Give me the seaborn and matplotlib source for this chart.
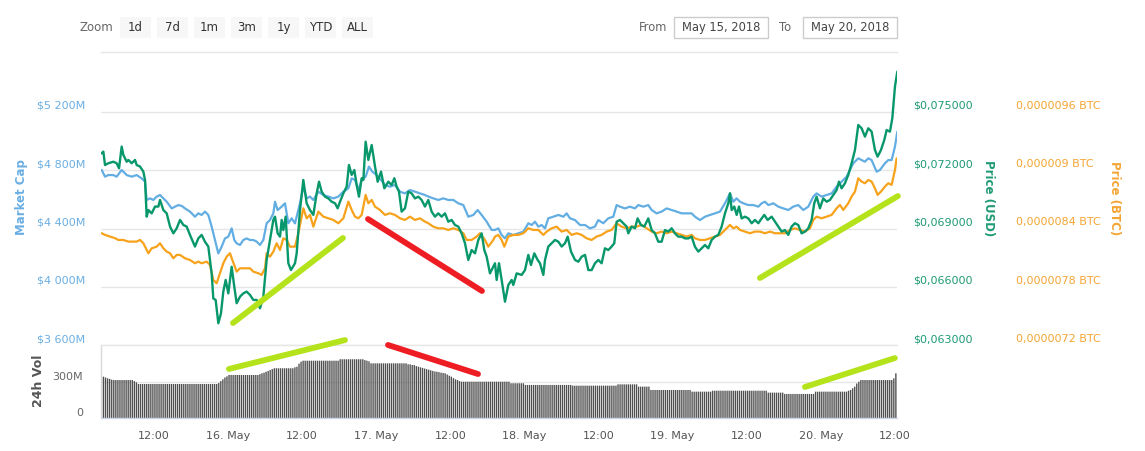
import numpy as np
import pandas as pd
import matplotlib
matplotlib.use("Agg")
import matplotlib.pyplot as plt
import seaborn as sns
from matplotlib.patches import Rectangle
from matplotlib.transforms import ScaledTranslation

# ---------------- DATA (x = hours since 15 May 2018 00:00) ----------------
market_cap_pts = [  # (hour, market cap in $M)
    (3.54, 4802), (4.08, 4756), (4.62, 4767), (5.43, 4767), (5.97, 4756), (6.78, 4802), (7.59, 4767),
    (8.40, 4756), (9.21, 4767), (10.02, 4744), (10.56, 4722), (10.83, 4596), (11.37, 4607), (11.91, 4596),
    (12.45, 4619), (12.99, 4630), (13.53, 4607), (14.07, 4584), (14.88, 4538), (15.42, 4550), (15.96, 4561),
    (16.50, 4555), (17.03, 4538), (17.84, 4516), (18.65, 4481), (19.19, 4504), (19.73, 4493), (20.27, 4516),
    (20.81, 4493), (21.35, 4413), (21.89, 4321), (22.43, 4229), (22.97, 4275), (23.51, 4332), (24.05, 4344),
    (24.59, 4401), (25.02, 4321), (25.40, 4298), (25.94, 4287), (26.48, 4321), (27.02, 4332), (27.56, 4321),
    (28.10, 4321), (28.64, 4310), (29.18, 4287), (29.72, 4321), (30.26, 4436), (30.80, 4458), (31.34, 4504),
    (31.61, 4584), (32.04, 4527), (32.69, 4550), (33.23, 4573), (33.77, 4436), (34.31, 4470),
    (34.85, 4435), (35.66, 4573), (36.20, 4687), (36.74, 4607), (37.28, 4619), (37.82, 4596), (38.63, 4653),
    (39.44, 4630), (40.25, 4619), (41.06, 4607), (41.87, 4619), (42.68, 4653), (43.49, 4676), (44.03, 4744),
    (44.57, 4733), (45.11, 4664), (45.65, 4733), (46.29, 4756), (46.83, 4825), (47.37, 4790), (48.08, 4767),
    (48.78, 4733), (49.42, 4699), (50.23, 4687), (51.04, 4699), (51.85, 4653), (52.66, 4641), (53.47, 4664),
    (54.28, 4653), (55.09, 4641), (55.90, 4630), (56.44, 4619), (57.25, 4607), (58.06, 4596), (58.87, 4607),
    (59.68, 4596), (60.49, 4596), (61.30, 4573), (62.11, 4561), (62.92, 4481), (63.73, 4493), (64.43, 4527),
    (65.08, 4493), (65.89, 4447), (66.70, 4390),
    (67.24, 4390), (67.78, 4401), (68.32, 4355), (68.86, 4332), (69.40, 4367), (70.21, 4355), (71.02, 4367),
    (71.83, 4378), (72.64, 4436), (73.18, 4424), (73.72, 4447), (74.26, 4413), (74.80, 4424), (75.34, 4401),
    (75.88, 4470), (76.69, 4481), (77.50, 4493), (78.31, 4481), (78.85, 4504), (79.39, 4470), (80.20, 4458),
    (81.01, 4424), (81.82, 4424), (82.62, 4401), (83.43, 4413), (83.97, 4458), (84.78, 4436), (85.59, 4470),
    (86.40, 4481), (86.94, 4561), (87.48, 4550), (88.29, 4538), (89.10, 4550), (89.91, 4538), (90.45, 4561),
    (91.26, 4550), (92.07, 4561), (92.61, 4527), (93.42, 4504), (94.23, 4516), (95.04, 4538), (95.85, 4527),
    (96.66, 4516), (97.47, 4504), (98.28, 4504), (99.09, 4504),
    (99.63, 4481), (100.44, 4458), (101.25, 4481), (102.06, 4493), (102.87, 4504), (103.68, 4516),
    (104.49, 4573), (105.03, 4619), (105.30, 4641), (105.84, 4584), (106.38, 4607), (106.92, 4584),
    (107.46, 4573), (108.27, 4561), (109.08, 4561), (109.89, 4550), (110.43, 4573), (110.97, 4584),
    (111.51, 4561), (112.32, 4573), (113.13, 4550), (113.94, 4538), (114.74, 4527), (115.55, 4550),
    (116.36, 4561), (117.17, 4527), (117.98, 4550), (118.79, 4619), (119.33, 4641), (120.14, 4619),
    (120.95, 4630), (121.76, 4641), (122.57, 4687), (123.38, 4722), (124.19, 4756), (124.73, 4802),
    (125.27, 4848), (126.08, 4882), (126.62, 4870), (127.16, 4859), (127.70, 4882), (128.24, 4870),
    (129.05, 4790), (129.59, 4802), (130.40, 4848), (130.94, 4870), (131.48, 4870), (132.02, 4962),
    (132.40, 5065),
]

price_usd_pts = [  # (hour, price in USD)
    (3.54, .07287), (3.81, .07296), (4.08, .07227), (4.62, .07236), (5.43, .07244), (5.97, .07236),
    (6.35, .07210), (6.78, .07322), (7.05, .07279), (7.59, .07244), (7.86, .07253), (8.40, .07236),
    (8.94, .07253), (9.21, .07227), (9.75, .07219), (10.29, .07193), (10.56, .07150), (10.83, .06961),
    (11.10, .06995), (11.64, .06978), (12.18, .07013), (12.72, .07013), (12.99, .07047), (13.53, .06995),
    (14.07, .06978), (14.61, .06910), (15.15, .06875), (15.69, .06901), (16.23, .06944), (16.77, .06918),
    (17.30, .06910), (17.84, .06867), (18.65, .06807), (19.19, .06849), (19.73, .06867), (20.27, .06832),
    (20.81, .06807), (21.35, .06669), (21.62, .06540), (22.00, .06532), (22.43, .06412), (22.86, .06463),
    (23.24, .06575), (23.62, .06635), (24.05, .06566), (24.59, .06703), (25.02, .06600), (25.40, .06515),
    (25.94, .06549), (26.48, .06566), (27.02, .06575), (27.56, .06558), (28.10, .06532), (28.64, .06532),
    (29.18, .06489), (29.72, .06549), (30.26, .06738), (30.80, .06841), (31.34, .06944), (31.61, .06961),
    (32.04, .06875), (32.42, .06858), (32.69, .06944), (32.96, .06892), (33.34, .06961), (33.77, .06721),
    (34.20, .06686),
    (34.85, .06721), (35.12, .06772), (35.66, .06995), (36.20, .07150), (36.74, .07030), (37.28, .06995),
    (37.82, .06970), (38.36, .07081), (38.74, .07141), (39.17, .07090), (39.71, .07064), (40.25, .07055),
    (40.79, .07038), (41.33, .07030), (41.76, .07004), (42.14, .07038), (42.68, .07081), (43.22, .07116),
    (43.59, .07227), (44.03, .07176), (44.46, .07201), (44.84, .07124), (45.21, .07064), (45.65, .07159),
    (45.92, .07150), (46.29, .07347), (46.73, .07253), (47.27, .07330), (47.81, .07219), (48.24, .07141),
    (48.78, .07193), (49.32, .07107), (49.96, .07141), (50.50, .07124), (50.94, .07159), (51.31, .07116),
    (51.69, .07090), (52.12, .06987), (52.66, .07004), (53.20, .07090), (53.74, .07081), (54.28, .07055),
    (54.82, .07064), (55.36, .07047), (55.90, .07013), (56.44, .07047), (56.98, .06987), (57.52, .06961),
    (58.06, .06978), (58.60, .06961), (59.14, .06978), (59.68, .06935), (60.22, .06944), (60.76, .06918),
    (61.30, .06910), (61.84, .06875), (62.38, .06824), (62.92, .06738), (63.46, .06789), (64.00, .06772),
    (64.54, .06841), (65.08, .06875), (65.51, .06789), (65.89, .06755), (66.43, .06669), (66.97, .06703),
    (67.24, .06721), (67.51, .06635), (67.89, .06721), (68.32, .06635), (68.86, .06523), (69.40, .06609),
    (69.94, .06635), (70.21, .06609), (70.75, .06669), (71.56, .06661), (72.10, .06686), (72.64, .06764),
    (73.07, .06712), (73.61, .06772), (74.15, .06738), (74.53, .06721), (75.07, .06661), (75.34, .06738),
    (75.88, .06807), (76.42, .06824), (76.96, .06841), (77.50, .06832), (78.04, .06807), (78.58, .06824),
    (79.01, .06858), (79.55, .06781), (80.20, .06738), (80.74, .06729), (81.28, .06755), (81.82, .06764),
    (82.36, .06686), (82.90, .06686), (83.43, .06721), (83.97, .06738), (84.51, .06721), (85.05, .06798),
    (85.59, .06789), (86.13, .06807), (86.56, .06824), (86.94, .06935), (87.48, .06944), (88.02, .06927),
    (88.56, .06910), (88.83, .06875), (89.37, .06910), (89.91, .06901), (90.34, .06952), (90.88, .06918),
    (91.42, .06910), (92.07, .06952), (92.61, .06892), (93.15, .06875), (93.69, .06832), (94.23, .06832),
    (94.77, .06892), (95.31, .06884), (95.85, .06901), (96.39, .06875), (96.93, .06858), (97.47, .06858),
    (98.01, .06849), (98.55, .06849), (99.09, .06858),
    (99.63, .06806), (100.17, .06781), (100.71, .06798), (101.25, .06815), (101.79, .06798), (102.33, .06841),
    (102.87, .06858), (103.41, .06867), (103.95, .06910), (104.49, .06978), (105.03, .07030), (105.30, .07081),
    (105.57, .06995), (106.00, .07013), (106.38, .06970), (106.76, .07013), (107.19, .06952), (107.73, .06961),
    (108.27, .06952), (108.81, .06927), (109.35, .06944), (109.89, .06927), (110.43, .06952), (110.86, .06970),
    (111.40, .06944), (112.05, .06961), (112.59, .06935), (113.13, .06910), (113.67, .06884), (114.20, .06892),
    (114.74, .06867), (115.28, .06910), (115.82, .06927), (116.36, .06918), (116.90, .06875), (117.44, .06884),
    (117.98, .06901), (118.52, .06944), (118.95, .07030), (119.33, .07064), (119.87, .07004), (120.41, .07055),
    (120.95, .07038), (121.49, .07047), (122.03, .07073), (122.57, .07098), (122.95, .07141), (123.38, .07107),
    (123.92, .07133), (124.46, .07176), (125.00, .07236), (125.54, .07304), (126.08, .07433), (126.62, .07416),
    (127.16, .07373), (127.70, .07416), (128.24, .07399), (128.78, .07304), (129.21, .07270), (129.75, .07304),
    (130.29, .07356), (130.67, .07407), (131.21, .07399), (131.59, .07468), (132.02, .07631), (132.40, .07708),
]

price_btc_pts = [  # (hour, price in micro-BTC; 8.4 = 0,0000084 BTC)
    (3.54, 8.351), (4.08, 8.334), (4.89, 8.317), (5.70, 8.300), (6.24, 8.282), (7.05, 8.282), (7.86, 8.265),
    (8.67, 8.265), (9.21, 8.265), (9.75, 8.282), (10.29, 8.248), (10.83, 8.179), (11.10, 8.145), (11.64, 8.196),
    (12.45, 8.213), (12.99, 8.248), (13.53, 8.196), (14.07, 8.162), (14.61, 8.145), (15.15, 8.093), (15.69, 8.128),
    (16.23, 8.128), (17.03, 8.093), (17.84, 8.076), (18.65, 8.042), (19.19, 8.059), (19.73, 8.042), (20.54, 8.059),
    (21.08, 8.025), (21.62, 7.870), (22.16, 7.836), (22.70, 7.939), (23.24, 8.042), (23.78, 8.110), (24.32, 8.145),
    (24.70, 8.076), (25.40, 7.956), (25.94, 7.990), (26.75, 7.990), (27.56, 7.990), (28.10, 7.956), (28.91, 7.939),
    (29.45, 7.922), (29.99, 7.990), (30.26, 8.145), (30.80, 8.110), (31.34, 8.162), (31.88, 8.248), (32.42, 8.179),
    (32.96, 8.299), (33.50, 8.282), (34.04, 8.213),
    (34.85, 8.213), (35.39, 8.351), (36.20, 8.608), (36.74, 8.505), (37.28, 8.540), (37.82, 8.419), (38.63, 8.574),
    (39.44, 8.522), (40.25, 8.505), (41.06, 8.488), (41.87, 8.454), (42.68, 8.505), (43.49, 8.677), (44.03, 8.591),
    (44.57, 8.522), (45.11, 8.505), (45.65, 8.540), (46.29, 8.746), (46.73, 8.660), (47.27, 8.694), (47.81, 8.625),
    (48.62, 8.591), (49.42, 8.540), (50.23, 8.557), (51.04, 8.540), (51.85, 8.505), (52.66, 8.488), (53.47, 8.522),
    (54.28, 8.488), (55.09, 8.505), (55.90, 8.471), (56.44, 8.454), (57.25, 8.419), (58.06, 8.402), (58.87, 8.402),
    (59.68, 8.385), (60.49, 8.402), (61.30, 8.385), (62.11, 8.351), (62.65, 8.282), (63.46, 8.282), (64.27, 8.317),
    (64.81, 8.351), (65.62, 8.282), (66.16, 8.213), (66.97, 8.282),
    (67.24, 8.317), (67.78, 8.334), (68.32, 8.282), (68.75, 8.213), (69.40, 8.317), (70.21, 8.334), (71.02, 8.334),
    (71.83, 8.351), (72.64, 8.402), (73.45, 8.385), (74.26, 8.385), (75.07, 8.334), (75.61, 8.368), (76.42, 8.402),
    (77.23, 8.419), (78.04, 8.368), (78.85, 8.385), (79.66, 8.334), (80.47, 8.351), (81.28, 8.334), (82.08, 8.299),
    (82.90, 8.282), (83.70, 8.317), (84.51, 8.334), (85.32, 8.368), (86.13, 8.385), (86.94, 8.454), (87.75, 8.419),
    (88.56, 8.402), (89.37, 8.419), (90.18, 8.419), (90.99, 8.437), (91.80, 8.402), (92.61, 8.368), (93.42, 8.351),
    (94.23, 8.368), (95.04, 8.351), (95.85, 8.368), (96.66, 8.351), (97.47, 8.334), (98.28, 8.317), (99.09, 8.334),
    (99.63, 8.299), (100.44, 8.282), (101.25, 8.282), (102.06, 8.299), (102.87, 8.317), (103.68, 8.334),
    (104.49, 8.385), (105.30, 8.437), (105.84, 8.402), (106.38, 8.419), (106.92, 8.385), (107.73, 8.368),
    (108.54, 8.351), (109.35, 8.368), (110.16, 8.368), (110.97, 8.351), (111.78, 8.368), (112.59, 8.351),
    (113.40, 8.351), (114.20, 8.351), (115.01, 8.385), (115.82, 8.402), (116.63, 8.385), (117.44, 8.368),
    (118.25, 8.402), (118.79, 8.488), (119.33, 8.522), (120.14, 8.505), (120.95, 8.522), (121.76, 8.540),
    (122.57, 8.608), (123.11, 8.643), (123.65, 8.591), (124.46, 8.660), (125.00, 8.729), (125.54, 8.780),
    (126.08, 8.917), (126.62, 8.883), (127.16, 8.866), (127.70, 8.900), (128.24, 8.883), (128.78, 8.814),
    (129.21, 8.746), (129.75, 8.780), (130.40, 8.832), (130.94, 8.866), (131.48, 8.849), (132.02, 9.003),
    (132.29, 9.123),
]

# 24h volume ($M): runs of (value, number of consecutive 20-minute bars), first bar at 03:30 on 15 May
vol_first_hour = 3.5
vol_bar_hours = 1 / 3
vol_runs = [
    (347, 2), (340, 1), (333, 1), (328, 1), (322, 1), (319, 10), (310, 1), (300, 1), (286, 39), (294, 1),
    (310, 1), (325, 1), (340, 1), (350, 1), (361, 15), (368, 1), (375, 1), (380, 1), (388, 1), (395, 1),
    (403, 1), (410, 1), (417, 10), (425, 1), (430, 1), (455, 1), (472, 1), (480, 18), (492, 12), (485, 1),
    (480, 1), (475, 1), (458, 18), (450, 2), (444, 2), (435, 1), (430, 1), (425, 1), (420, 1), (415, 1),
    (410, 1), (405, 1), (400, 1), (395, 1), (390, 1), (388, 1), (385, 1), (380, 1), (378, 1), (375, 1),
    (365, 1), (355, 1), (347, 1), (335, 1), (325, 1), (319, 1), (310, 1), (305, 24), (292, 7), (278, 23),
    (272, 22), (283, 10), (264, 6), (236, 20), (222, 10), (230, 27), (214, 8), (203, 15), (222, 16),
    (230, 1), (236, 1), (250, 1), (264, 1), (290, 1), (305, 1), (319, 16), (333, 1), (375, 1),
]

# hand-drawn trend strokes: (start hour, start value), (end hour, end value), colour key
trend_strokes_main = [  # values in market-cap units ($M)
    ((24.81, 3751), (42.62, 4335), "lime"),
    ((46.67, 4465), (65.13, 3971), "red"),
    ((110.15, 4060), (132.50, 4623), "lime"),
]
trend_strokes_vol = [  # values in volume units ($M)
    ((24.16, 411), (42.95, 652), "lime"),
    ((49.91, 611), (64.49, 369), "red"),
    ((117.44, 261), (132.00, 502), "lime"),
]

x_tick_hours = [12, 24, 36, 48, 60, 72, 84, 96, 108, 120, 132]
x_tick_labels = ["12:00", "16. May", "12:00", "17. May", "12:00", "18. May",
                 "12:00", "19. May", "12:00", "20. May", "12:00"]
mcap_ticks = [3600, 4000, 4400, 4800, 5200]
mcap_tick_labels = ["$3 600M", "$4 000M", "$4 400M", "$4 800M", "$5 200M"]
usd_ticks = [0.063, 0.066, 0.069, 0.072, 0.075]
usd_tick_labels = ["$0,063000", "$0,066000", "$0,069000", "$0,072000", "$0,075000"]
btc_ticks = [7.2, 7.8, 8.4, 9.0, 9.6]
btc_tick_labels = ["0,0000072 BTC", "0,0000078 BTC", "0,0000084 BTC", "0,000009 BTC", "0,0000096 BTC"]
vol_ticks = [0, 300]
vol_tick_labels = ["0", "300M"]
zoom_buttons = ["1d", "7d", "1m", "3m", "1y", "YTD", "ALL"]
date_from = "May 15, 2018"
date_to = "May 20, 2018"

# ---------------- STYLE ----------------
sns.set_style("white")
plt.rcParams["font.family"] = ["DejaVu Sans"]

C_BLUE = "#62aee3"
C_BLUE_TXT = "#6aaee3"
C_GREEN = "#07976b"
C_GREEN_TXT = "#1e9a74"
C_ORANGE = "#f7a21b"
C_ORANGE_TXT = "#f4a534"
C_BAR = "#4f4f4f"
C_GRID = "#e6e6e6"
STROKE = {"lime": "#b4e31c", "red": "#ee1d23"}

W, H = 1145, 451
fig = plt.figure(figsize=(W / 100, H / 100), dpi=100)
fig.patch.set_facecolor("white")


def fx(px):
    return px / W


def fy(py):
    return 1 - py / H


PL, PR = 101, 897
MAIN_TOP, MAIN_BOT, VOL_BOT = 52, 345, 418.3
XLIM = (3.43, 132.35)

ax = fig.add_axes([fx(PL), fy(MAIN_BOT), (PR - PL) / W, (MAIN_BOT - MAIN_TOP) / H])
ax_usd = ax.twinx()
ax_btc = ax.twinx()
axv = fig.add_axes([fx(PL), fy(VOL_BOT), (PR - PL) / W, (VOL_BOT - MAIN_BOT) / H])

span = MAIN_BOT - MAIN_TOP  # pixels
ax.set_ylim(3600, 3600 + span * 1600 / 233)
ax_usd.set_ylim(0.063, 0.063 + span * 0.012 / 233)
ax_btc.set_ylim(7.2, 7.2 + span * 2.4 / 233)
axv.set_ylim(0, 300 * (VOL_BOT - MAIN_BOT) / 36)
for a in (ax, ax_usd, ax_btc, axv):
    a.set_xlim(*XLIM)
    a.set_facecolor("none")

# ---------------- SERIES ----------------
df_mcap = pd.DataFrame(market_cap_pts, columns=["hour", "value"])
df_usd = pd.DataFrame(price_usd_pts, columns=["hour", "value"])
df_btc = pd.DataFrame(price_btc_pts, columns=["hour", "value"])

sns.lineplot(data=df_mcap, x="hour", y="value", ax=ax, color=C_BLUE, lw=1.6,
             estimator=None, sort=False, zorder=3)
sns.lineplot(data=df_btc, x="hour", y="value", ax=ax_btc, color=C_ORANGE, lw=1.6,
             estimator=None, sort=False, zorder=3)
sns.lineplot(data=df_usd, x="hour", y="value", ax=ax_usd, color=C_GREEN, lw=1.7,
             estimator=None, sort=False, zorder=4)
# green drawn above orange
ax_usd.set_zorder(ax_btc.get_zorder() + 1)

vol_values = np.repeat([v for v, n in vol_runs], [n for v, n in vol_runs])
vol_hours = vol_first_hour + np.arange(len(vol_values)) * vol_bar_hours
axv.bar(vol_hours, vol_values, width=vol_bar_hours * 0.66, color=C_BAR, linewidth=0,
        zorder=2, snap=False, antialiased=True)

for a in (ax, ax_usd, ax_btc, axv):
    a.set_xlabel("")
    a.set_ylabel("")

# ---------------- AXES ----------------
for a in (ax, ax_usd, ax_btc):
    for s in a.spines.values():
        s.set_visible(False)
ax.spines["top"].set_visible(True)
ax.spines["top"].set_color(C_GRID)
ax.spines["top"].set_linewidth(1)

ax.set_yticks(mcap_ticks)
ax.set_yticklabels(mcap_tick_labels)
ax.grid(axis="y", color=C_GRID, lw=1)
ax.grid(axis="x", visible=False)
ax.tick_params(axis="y", length=0, pad=11.5, labelsize=8, labelcolor=C_BLUE_TXT)
ax.tick_params(axis="x", bottom=False, labelbottom=False)

ax_usd.set_yticks(usd_ticks)
ax_usd.set_yticklabels(usd_tick_labels)
ax_usd.tick_params(axis="y", length=0, pad=11.5, labelsize=8, labelcolor=C_GREEN_TXT)
ax_usd.grid(False)

ax_btc.set_yticks(btc_ticks)
ax_btc.set_yticklabels(btc_tick_labels)
ax_btc.tick_params(axis="y", length=0, pad=85.5, labelsize=8, labelcolor=C_ORANGE_TXT)
ax_btc.grid(False)

for side, s in axv.spines.items():
    s.set_linewidth(1)
axv.spines["right"].set_visible(False)
axv.spines["top"].set_color(C_GRID)
axv.spines["left"].set_color("#d8d8d8")
axv.spines["bottom"].set_color("#ccd6eb")
axv.set_yticks(vol_ticks)
axv.set_yticklabels(vol_tick_labels)
axv.grid(axis="y", color=C_GRID, lw=1, zorder=0)
axv.grid(axis="x", visible=False)
axv.set_axisbelow(True)
axv.tick_params(axis="y", length=0, pad=13, labelsize=8, labelcolor="#666666")
axv.set_xticks(x_tick_hours)
axv.set_xticklabels(x_tick_labels)
axv.tick_params(axis="x", length=5, width=1, color="#ccd6eb", pad=4, labelsize=8,
                labelcolor="#555555", direction="out")


def lift_labels(axis_obj, dy_px):
    off = ScaledTranslation(0, dy_px / 100, fig.dpi_scale_trans)
    for lab in axis_obj.get_ticklabels():
        lab.set_transform(lab.get_transform() + off)


lift_labels(ax.yaxis, 7)
lift_labels(ax_usd.yaxis, 7)
lift_labels(ax_btc.yaxis, 7)
lift_labels(axv.yaxis, 6.5)

# ---------------- AXIS TITLES ----------------
fig.text(fx(22), fy(197), "Market Cap", rotation=90, ha="center", va="center",
         fontsize=8.5, fontweight="bold", color=C_BLUE_TXT)
fig.text(fx(988), fy(198), "Price (USD)", rotation=270, ha="center", va="center",
         fontsize=8.5, fontweight="bold", color=C_GREEN_TXT)
fig.text(fx(1114), fy(198), "Price (BTC)", rotation=270, ha="center", va="center",
         fontsize=8.5, fontweight="bold", color=C_ORANGE_TXT)
fig.text(fx(38), fy(381), "24h Vol", rotation=90, ha="center", va="center",
         fontsize=9, fontweight="bold", color="#555555")

# ---------------- TREND STROKES ----------------
for (x0, y0), (x1, y1), c in trend_strokes_main:
    ax_usd.plot([x0, x1], [y0, y1], transform=ax.transData, color=STROKE[c], lw=4.2,
                solid_capstyle="round", clip_on=False, zorder=10)
for (x0, y0), (x1, y1), c in trend_strokes_vol:
    axv.plot([x0, x1], [y0, y1], color=STROKE[c], lw=4.2,
             solid_capstyle="round", clip_on=False, zorder=10)

# ---------------- RANGE SELECTOR UI ----------------
fig.text(fx(113), fy(27.5), "Zoom", ha="right", va="center", fontsize=8.5, color="#666666")
for i, lab in enumerate(zoom_buttons):
    left = 120 + i * 37
    fig.patches.append(Rectangle((fx(left), fy(38)), 31 / W, 21 / H, transform=fig.transFigure,
                                 facecolor="#f7f7f7", edgecolor="none"))
    fig.text(fx(left + 15.5), fy(27.5), lab, ha="center", va="center", fontsize=8.5, color="#333333")

fig.text(fx(667), fy(27.5), "From", ha="right", va="center", fontsize=8.3, color="#666666")
fig.text(fx(779), fy(27.5), "To", ha="left", va="center", fontsize=8.3, color="#666666")
for left, right, txt in ((674, 768, date_from), (803, 897, date_to)):
    fig.patches.append(Rectangle((fx(left), fy(38)), (right - left) / W, 21 / H, transform=fig.transFigure,
                                 facecolor="white", edgecolor="#cccccc", lw=1))
    fig.text(fx((left + right) / 2), fy(27.5), txt, ha="center", va="center", fontsize=8.3, color="#444444")

fig.savefig("out.png", dpi=100)
